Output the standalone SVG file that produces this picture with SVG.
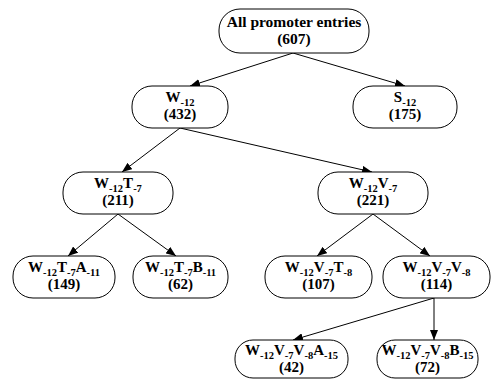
<svg xmlns="http://www.w3.org/2000/svg" width="494" height="379" viewBox="0 0 494 379">
<style>
.box{fill:#fff;stroke:#000;stroke-width:1}
.t{font-family:"Liberation Serif",serif;font-weight:bold;font-size:15px;text-anchor:middle;fill:#000}
.r{font-size:15.5px}
.s{font-size:10.5px}
.e{stroke:#000;stroke-width:1;fill:none;marker-end:url(#ah)}
</style>
<defs>
<marker id="ah" markerUnits="userSpaceOnUse" markerWidth="10" markerHeight="8" refX="10" refY="4" orient="auto">
<path d="M0,0 L10,4 L0,8 z" fill="#000"/>
</marker>
</defs>
<rect width="494" height="379" fill="#fff"/>
<g id="connectors">
<line class="e" x1="293" y1="53" x2="190" y2="86"/>
<line class="e" x1="293" y1="53" x2="405" y2="86"/>
<line class="e" x1="180" y1="128" x2="122" y2="172"/>
<line class="e" x1="180" y1="128" x2="372" y2="172"/>
<line class="e" x1="118" y1="214" x2="68" y2="256"/>
<line class="e" x1="118" y1="214" x2="176" y2="256"/>
<line class="e" x1="373" y1="214" x2="317" y2="256"/>
<line class="e" x1="373" y1="214" x2="430" y2="256"/>
<line class="e" x1="434" y1="298" x2="293" y2="340"/>
<line class="e" x1="434" y1="298" x2="434" y2="340"/>
</g>
<g id="root">
<rect class="box" x="219" y="9" width="150" height="44" rx="21"/>
<text class="t r" x="294" y="27">All promoter entries</text>
<text class="t r" x="294" y="44">(607)</text>
</g>
<g id="w12">
<rect class="box" x="132" y="86" width="96" height="42" rx="20"/>
<text class="t" x="180" y="102">W<tspan class="s" dy="4">-12</tspan></text>
<text class="t" x="180" y="119">(432)</text>
</g>
<g id="s12">
<rect class="box" x="353" y="86" width="104" height="42" rx="20"/>
<text class="t" x="405" y="102">S<tspan class="s" dy="4">-12</tspan></text>
<text class="t" x="405" y="119">(175)</text>
</g>
<g id="w12t7">
<rect class="box" x="63" y="172" width="110" height="42" rx="20"/>
<text class="t" x="118" y="188">W<tspan class="s" dy="4">-12</tspan><tspan dy="-4">T</tspan><tspan class="s" dy="4">-7</tspan></text>
<text class="t" x="118" y="205">(211)</text>
</g>
<g id="w12v7">
<rect class="box" x="318" y="172" width="110" height="42" rx="20"/>
<text class="t" x="373" y="188">W<tspan class="s" dy="4">-12</tspan><tspan dy="-4">V</tspan><tspan class="s" dy="4">-7</tspan></text>
<text class="t" x="373" y="205">(221)</text>
</g>
<g id="w12t7a11">
<rect class="box" x="13" y="256" width="102" height="42" rx="20"/>
<text class="t" x="64" y="272">W<tspan class="s" dy="4">-12</tspan><tspan dy="-4">T</tspan><tspan class="s" dy="4">-7</tspan><tspan dy="-4">A</tspan><tspan class="s" dy="4">-11</tspan></text>
<text class="t" x="64" y="289">(149)</text>
</g>
<g id="w12t7b11">
<rect class="box" x="133" y="256" width="95" height="42" rx="20"/>
<text class="t" x="180.5" y="272">W<tspan class="s" dy="4">-12</tspan><tspan dy="-4">T</tspan><tspan class="s" dy="4">-7</tspan><tspan dy="-4">B</tspan><tspan class="s" dy="4">-11</tspan></text>
<text class="t" x="180.5" y="289">(62)</text>
</g>
<g id="w12v7t8">
<rect class="box" x="265" y="256" width="107" height="42" rx="20"/>
<text class="t" x="318.5" y="272">W<tspan class="s" dy="4">-12</tspan><tspan dy="-4">V</tspan><tspan class="s" dy="4">-7</tspan><tspan dy="-4">T</tspan><tspan class="s" dy="4">-8</tspan></text>
<text class="t" x="318.5" y="289">(107)</text>
</g>
<g id="w12v7v8">
<rect class="box" x="383" y="256" width="107" height="42" rx="20"/>
<text class="t" x="436.5" y="272">W<tspan class="s" dy="4">-12</tspan><tspan dy="-4">V</tspan><tspan class="s" dy="4">-7</tspan><tspan dy="-4">V</tspan><tspan class="s" dy="4">-8</tspan></text>
<text class="t" x="436.5" y="289">(114)</text>
</g>
<g id="w12v7v8a15">
<rect class="box" x="235" y="340" width="113" height="38" rx="18"/>
<text class="t" x="291.5" y="355">W<tspan class="s" dy="4">-12</tspan><tspan dy="-4">V</tspan><tspan class="s" dy="4">-7</tspan><tspan dy="-4">V</tspan><tspan class="s" dy="4">-8</tspan><tspan dy="-4">A</tspan><tspan class="s" dy="4">-15</tspan></text>
<text class="t" x="291.5" y="372">(42)</text>
</g>
<g id="w12v7v8b15">
<rect class="box" x="377" y="340" width="101" height="38" rx="18"/>
<text class="t" x="427.5" y="355">W<tspan class="s" dy="4">-12</tspan><tspan dy="-4">V</tspan><tspan class="s" dy="4">-7</tspan><tspan dy="-4">V</tspan><tspan class="s" dy="4">-8</tspan><tspan dy="-4">B</tspan><tspan class="s" dy="4">-15</tspan></text>
<text class="t" x="427.5" y="372">(72)</text>
</g>
</svg>
